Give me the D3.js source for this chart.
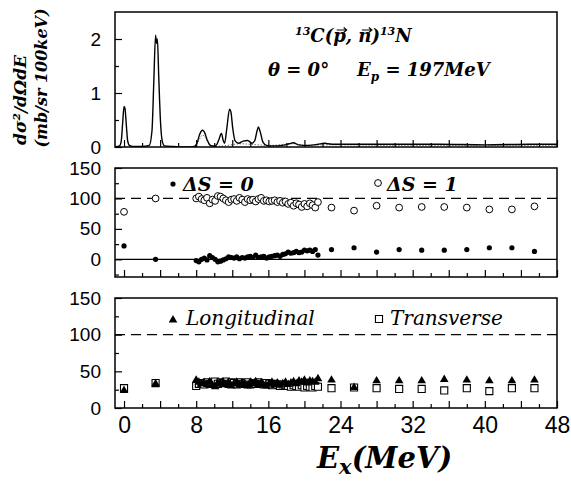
<!DOCTYPE html>
<html>
<head>
<meta charset="utf-8">
<script src="https://cdn.jsdelivr.net/npm/d3@7/dist/d3.min.js"></script>
<style>
  body { margin: 0; background: #fff; }
</style>
</head>
<body>
<div id="chart"></div>
<script>
// ---- data ----
// top panel: spectrum (MeV, mb/sr 100keV)
var specE = [-1.0, -0.5, -0.3, -0.15, 0.0, 0.1, 0.25, 0.4, 0.6, 1.0, 2.0, 2.8, 3.1, 3.3, 3.5, 3.6, 3.7, 3.85, 4.05, 4.25, 4.5, 5.5, 7.0, 7.8,
  8.1, 8.4, 8.7, 8.9, 9.2, 9.5, 9.8, 10.2, 10.5, 10.8, 11.0, 11.15, 11.4, 11.7, 11.85, 12.05, 12.3, 12.7, 13.2, 13.7, 14.2, 14.5, 14.75, 14.9, 15.1, 15.4, 15.8,
  16.5, 17.5, 18.3, 18.8, 19.3, 20.5, 21.5, 22.2, 22.6, 23.5, 26, 30, 35, 40, 45, 48];
var specY = [0.0, 0.02, 0.12, 0.45, 0.75, 0.72, 0.42, 0.12, 0.03, 0.01, 0.01, 0.03, 0.3, 1.2, 2.07, 1.92, 2.0, 1.3, 0.45, 0.1, 0.02, 0.01, 0.0, 0.01,
  0.08, 0.24, 0.31, 0.28, 0.14, 0.04, 0.02, 0.03, 0.13, 0.25, 0.12, 0.07, 0.35, 0.7, 0.65, 0.35, 0.12, 0.07, 0.11, 0.12, 0.07, 0.12, 0.3, 0.37, 0.28, 0.09, 0.03,
  0.02, 0.03, 0.06, 0.08, 0.04, 0.03, 0.05, 0.07, 0.06, 0.05, 0.05, 0.05, 0.05, 0.04, 0.05, 0.05];
// dotted component under the spectrum
var compE = [7.9, 8.3, 8.7, 9.0, 9.4, 9.8, 11.0, 13.0, 14.0, 16.0, 18.0, 19.0, 20.0, 22.0, 30.0, 40.0, 48.0];
var compY = [0.0, 0.12, 0.22, 0.18, 0.06, 0.01, 0.02, 0.06, 0.05, 0.03, 0.05, 0.06, 0.03, 0.04, 0.03, 0.03, 0.03];

// excitation energies of the measured points (MeV)
var pointE = [0.0, 3.5,
  8.0, 8.3, 8.6, 8.9, 9.2, 9.5, 9.8, 10.1, 10.4, 10.7, 11.0, 11.3, 11.6, 11.9, 12.2, 12.5, 12.8, 13.1, 13.4, 13.7, 14.0, 14.3, 14.6,
  14.9, 15.2, 15.5, 15.8, 16.1, 16.4, 16.7, 17.0, 17.3, 17.6, 17.9, 18.2, 18.5, 18.8, 19.1, 19.4, 19.7, 20.0, 20.3, 20.6, 20.9, 21.2, 21.5,
  23.0, 25.5, 28.0, 30.5, 33.0, 35.5, 38.0, 40.5, 43.0, 45.5];

// middle panel
var dS0 = [22, 0,
  -2, -4, 0, 2, -1, 6, 3, 0, -4, -3, -1, 1, 4, 3, 2, 4, 1, 3, 2, 4, 5, 3, 7,
  3, 4, 5, 2, 4, 5, 6, 7, 5, 8, 9, 12, 10, 11, 13, 11, 12, 15, 14, 15, 13, 16, 7,
  16, 19, 12, 16, 15, 15, 16, 19, 19, 13];
var dS1 = [78, 100,
  100, 103, 99, 97, 101, 92, 98, 96, 104, 103, 100, 97, 94, 98, 99, 96, 101, 98, 94, 99, 97, 98, 95,
  99, 101, 96, 97, 95, 96, 97, 94, 96, 93, 95, 91, 93, 88, 92, 90, 86, 91, 87, 92, 89, 85, 94,
  85, 80, 88, 85, 86, 86, 85, 82, 82, 87];

// bottom panel
var longi = [24, 33,
  38, 35, 33, 34, 32, 36, 31, 29, 34, 33, 35, 32, 34, 30, 33, 35, 31, 34, 33, 30, 35, 33, 36,
  32, 34, 31, 30, 33, 35, 32, 34, 31, 33, 35, 32, 34, 36, 33, 37, 35, 38, 34, 37, 36, 35, 40,
  38, 28, 37, 37, 37, 39, 38, 37, 37, 38];
var trans = [27, 34,
  30, 33, 34, 32, 35, 33, 34, 36, 33, 35, 34, 36, 33, 35, 34, 32, 35, 33, 34, 35, 32, 34, 33,
  35, 33, 32, 34, 33, 31, 33, 32, 30, 32, 31, 30, 29, 31, 30, 29, 31, 28, 30, 29, 28, 30, 29,
  27, 28, 27, 26, 26, 24, 27, 23, 27, 27];

var xTickLabels = [0, 8, 16, 24, 32, 40, 48];

// ---- layout ----
var W = 571, H = 483;
var left = 115, right = 557;
var SERIF = "'DejaVu Serif', 'Liberation Serif', serif";
var SANS = "'Liberation Sans', Arial, sans-serif";

var svg = d3.select("#chart").append("svg")
    .attr("width", W)
    .attr("height", H);
svg.append("rect").attr("width", W).attr("height", H).attr("fill", "#fff");

var x = d3.scaleLinear().domain([-1, 48]).range([left, right]);

var xMajor = d3.range(0, 49, 4);
var xMinor = d3.range(2, 48, 4);

// math style text (bold italic serif)
function mathText(px, py, size) {
  return svg.append("text")
      .attr("x", px).attr("y", py)
      .attr("fill", "#000")
      .style("font-family", SERIF)
      .style("font-style", "italic")
      .style("font-weight", "bold")
      .style("font-size", size + "px");
}

// draws a framed panel with inward ticks and returns its y scale
function drawPanel(top, bottom, yDomain, yMajor, yMinor, showX) {
  var y = d3.scaleLinear().domain(yDomain).range([bottom, top]);
  var g = svg.append("g");

  // x ticks along the bottom, pointing in
  g.append("g")
      .attr("transform", "translate(0," + bottom + ")")
      .call(d3.axisBottom(x).tickValues(xMajor).tickSize(-7).tickFormat(""))
      .call(function(a) { a.select(".domain").remove(); });
  g.append("g")
      .attr("transform", "translate(0," + bottom + ")")
      .call(d3.axisBottom(x).tickValues(xMinor).tickSize(-4).tickFormat(""))
      .call(function(a) { a.select(".domain").remove(); });

  if (showX) {
    g.append("g")
        .attr("transform", "translate(0," + bottom + ")")
        .call(d3.axisBottom(x).tickValues(xTickLabels).tickSize(0).tickPadding(9).tickFormat(d3.format("d")))
        .call(function(a) {
          a.select(".domain").remove();
          a.selectAll("text").style("font-size", "23px").style("font-family", SANS);
        });
  }

  // y ticks
  g.append("g")
      .attr("transform", "translate(" + left + ",0)")
      .call(d3.axisLeft(y).tickValues(yMajor).tickSize(-7).tickPadding(14).tickFormat(d3.format("d")))
      .call(function(a) {
        a.select(".domain").remove();
        a.selectAll("text").style("font-size", "19px").style("font-family", SANS);
      });
  g.append("g")
      .attr("transform", "translate(" + left + ",0)")
      .call(d3.axisLeft(y).tickValues(yMinor).tickSize(-4).tickFormat(""))
      .call(function(a) { a.select(".domain").remove(); });

  g.selectAll(".tick line").attr("stroke", "#000").attr("stroke-width", 1.2);

  // frame
  g.append("rect")
      .attr("x", left).attr("y", top)
      .attr("width", right - left).attr("height", bottom - top)
      .attr("fill", "none").attr("stroke", "#000").attr("stroke-width", 1.5);
  return y;
}

// small vector arrow drawn over a tspan
function vecArrow(node) {
  var b = node.getBBox();
  var cx = b.x + b.width / 2 + 2, yy = b.y + 5;
  var half = 5;
  svg.append("path")
      .attr("d", "M" + (cx - half) + "," + yy + "H" + (cx + half) +
                 "M" + (cx + half - 3) + "," + (yy - 2.5) + "L" + (cx + half) + "," + yy + "L" + (cx + half - 3) + "," + (yy + 2.5))
      .attr("fill", "none").attr("stroke", "#000").attr("stroke-width", 1.2);
}

// ---- top panel: spectrum ----
var y1 = drawPanel(12, 147, [0, 2.5], [0, 1, 2], [0.5, 1.5], false);

var spec = specE.map(function(e, i) { return [e, specY[i]]; });
var comp = compE.map(function(e, i) { return [e, compY[i]]; });

var specLine = d3.line()
    .x(function(d) { return x(d[0]); })
    .y(function(d) { return y1(d[1]); })
    .curve(d3.curveMonotoneX);

svg.append("clipPath").attr("id", "clipTop")
  .append("rect").attr("x", left).attr("y", 12).attr("width", right - left).attr("height", 135);

svg.append("path")
    .attr("d", specLine(comp))
    .attr("fill", "none")
    .attr("stroke", "#000")
    .attr("stroke-width", 0.8)
    .attr("stroke-dasharray", "1,2")
    .attr("clip-path", "url(#clipTop)");

svg.append("path")
    .attr("d", specLine(spec))
    .attr("fill", "none")
    .attr("stroke", "#000")
    .attr("stroke-width", 1.4)
    .attr("clip-path", "url(#clipTop)");

// reaction text
var t1 = mathText(295, 42, 18);
t1.append("tspan").text("13").attr("dy", -7).style("font-size", "11px");
t1.append("tspan").text("C(").attr("dy", 7);
var tp = t1.append("tspan").text("p");
t1.append("tspan").text(", ");
var tn = t1.append("tspan").text("n");
t1.append("tspan").text(")");
t1.append("tspan").text("13").attr("dy", -7).style("font-size", "11px");
t1.append("tspan").text("N").attr("dy", 7);
vecArrow(tp.node());
vecArrow(tn.node());

var t2 = mathText(268, 76, 18);
t2.append("tspan").text("\u03B8 = 0\u00B0");
t2.append("tspan").text("E").attr("x", 357);
t2.append("tspan").text("p").attr("dy", 5).style("font-size", "12px");
t2.append("tspan").text(" = 197MeV").attr("dy", -5);

// y label (two rotated lines)
mathText(0, 0, 17)
    .attr("transform", "translate(26,100) rotate(-90)")
    .attr("text-anchor", "middle")
    .text("d\u03C3\u00B2/d\u03A9dE");
mathText(0, 0, 16)
    .attr("transform", "translate(47,78) rotate(-90)")
    .attr("text-anchor", "middle")
    .text("(mb/sr 100keV)");

// ---- middle panel: spin transfer ----
var y2 = drawPanel(168, 277, [-29, 150], [0, 50, 100, 150], [-25, 25, 75, 125], false);

svg.append("line")
    .attr("x1", left).attr("x2", right)
    .attr("y1", y2(0)).attr("y2", y2(0))
    .attr("stroke", "#000").attr("stroke-width", 1.2);
svg.append("line")
    .attr("x1", left).attr("x2", right)
    .attr("y1", y2(100)).attr("y2", y2(100))
    .attr("stroke", "#000").attr("stroke-width", 1.2)
    .attr("stroke-dasharray", "10,6");

svg.append("g").selectAll("circle")
    .data(pointE)
    .enter().append("circle")
    .attr("cx", function(d) { return x(d); })
    .attr("cy", function(d, i) { return y2(dS1[i]); })
    .attr("r", 3.4)
    .attr("fill", "#fff")
    .attr("stroke", "#000")
    .attr("stroke-width", 1);

svg.append("g").selectAll("circle")
    .data(pointE)
    .enter().append("circle")
    .attr("cx", function(d) { return x(d); })
    .attr("cy", function(d, i) { return y2(dS0[i]); })
    .attr("r", 2.6)
    .attr("fill", "#000");

// legend
svg.append("circle").attr("cx", 173).attr("cy", 184).attr("r", 2.6).attr("fill", "#000");
mathText(183, 191, 19).text("\u0394S = 0");
svg.append("circle").attr("cx", 378).attr("cy", 183).attr("r", 3.4).attr("fill", "#fff").attr("stroke", "#000");
mathText(387, 191, 19).text("\u0394S = 1");

// ---- bottom panel: longitudinal / transverse ----
var y3 = drawPanel(298, 408, [0, 150], [0, 50, 100, 150], [25, 75, 125], true);

svg.append("line")
    .attr("x1", left).attr("x2", right)
    .attr("y1", y3(100)).attr("y2", y3(100))
    .attr("stroke", "#000").attr("stroke-width", 1.2)
    .attr("stroke-dasharray", "10,6");

var square = d3.symbol().type(d3.symbolSquare).size(50);
var triangle = d3.symbol().type(d3.symbolTriangle).size(32);

svg.append("g").selectAll("path")
    .data(pointE)
    .enter().append("path")
    .attr("d", square)
    .attr("transform", function(d, i) { return "translate(" + x(d) + "," + y3(trans[i]) + ")"; })
    .attr("fill", "#fff")
    .attr("stroke", "#000")
    .attr("stroke-width", 1.1);

svg.append("g").selectAll("path")
    .data(pointE)
    .enter().append("path")
    .attr("d", triangle)
    .attr("transform", function(d, i) { return "translate(" + x(d) + "," + y3(longi[i]) + ")"; })
    .attr("fill", "#000");

// legend
svg.append("path").attr("d", triangle).attr("transform", "translate(173,320)").attr("fill", "#000");
mathText(186, 325, 20).style("font-weight", "normal").text("Longitudinal");
svg.append("path").attr("d", square).attr("transform", "translate(379,319)")
    .attr("fill", "#fff").attr("stroke", "#000").attr("stroke-width", 1.1);
mathText(390, 325, 20).style("font-weight", "normal").text("Transverse");

// x axis title
var xt = mathText(317, 468, 29);
xt.append("tspan").text("E");
xt.append("tspan").text("x").attr("dy", 6).style("font-size", "21px");
xt.append("tspan").text("(MeV)").attr("dy", -6);
</script>
</body>
</html>
